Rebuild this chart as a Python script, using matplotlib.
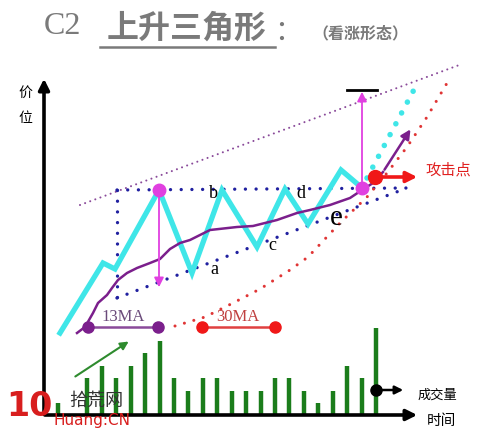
import matplotlib.pyplot as plt

cjk = ['Noto Sans CJK SC', 'DejaVu Sans']

# price zigzag (cyan), pixel-space coordinates
price_x = [60, 103, 115, 159, 192, 222, 257, 285, 308, 341, 361]
price_y = [333, 263, 269, 190, 273, 190, 247, 189, 224, 170, 187]
breakout_x = [367, 417]
breakout_y = [178, 84]

# 13MA (purple solid) and 30MA (red dotted)
ma13_x = [77, 85, 93, 98, 107, 112, 118, 127, 137, 150, 160, 170, 180, 190,
          210, 237, 253, 277, 297, 310, 330, 350, 362, 373, 383]
ma13_y = [333, 327, 313, 303, 295, 288, 280, 273, 268, 263, 259, 249, 243, 240,
          230, 227, 226, 220, 213, 210, 205, 198, 190, 183, 172]
ma13_tip = (412, 127)
ma30_x = [175, 205, 233, 260, 290, 308, 340, 367, 387, 407, 427, 450]
ma30_y = [326, 317, 303, 289, 270, 257, 223, 197, 173, 147, 117, 78]

# triangle lines
top_line = ([117, 407], [190, 188])
low_line = ([117, 407], [298, 188])
left_line = ([117, 117], [190, 298])
channel = ([80, 462], [205, 64])

# volume bars
vol_x = [58, 87, 102, 116, 131, 145, 160, 174, 188, 203, 217, 232, 246, 261,
         275, 289, 304, 318, 333, 347, 362, 376]
vol_top = [403, 378, 366, 378, 366, 353, 341, 378, 391, 378, 378, 391, 391, 391,
           378, 378, 391, 403, 391, 366, 378, 328]
base_y = 415

labels_abcd = ['a', 'b', 'c', 'd']
abcd_x = [214, 213, 272, 301]
abcd_y = [269, 194, 245, 194]

fig = plt.figure(figsize=(4.81, 4.37), dpi=100)
ax = fig.add_axes([0, 0, 1, 1])
ax.set_xlim(0, 481)
ax.set_ylim(437, 0)
ax.axis('off')


def dotted(x, y, color, lw, gap):
    ax.plot(x, y, color=color, lw=lw, linestyle=(0, (0.01, gap)),
            dash_capstyle='round')


# title
ax.text(62, 26, 'C2', fontsize=23, color='#7a7a7a', family='Liberation Serif',
        ha='center', va='center')
ax.text(187, 29, '上升三角形', fontsize=23, color='#7a7a7a', family=cjk,
        weight='bold', ha='center', va='center')
ax.plot([100, 275], [47, 47], color='#7a7a7a', lw=1.8)
ax.text(288, 32, '：', fontsize=20, color='#7a7a7a', family=cjk, ha='center', va='center')
ax.text(360, 33, '（看涨形态）', fontsize=11.5, color='#7a7a7a', family=cjk,
        weight='bold', ha='center', va='center')

# axes with arrows
ax.annotate('', xy=(44, 76), xytext=(44, 417),
            arrowprops=dict(arrowstyle='-|>', lw=2.6, color='black', mutation_scale=16))
ax.annotate('', xy=(420, base_y), xytext=(42, base_y),
            arrowprops=dict(arrowstyle='-|>', lw=2.6, color='black', mutation_scale=16))
ax.text(25, 93, '价', fontsize=10, family=cjk, ha='center', va='center')
ax.text(25, 118, '位', fontsize=10, family=cjk, ha='center', va='center')
ax.text(441, 421, '时间', fontsize=10.5, family=cjk, ha='center', va='center')
ax.text(437, 395, '成交量', fontsize=9.5, family=cjk, ha='center', va='center')

# volume
ax.vlines(vol_x, vol_top, base_y, color='#1b7d1b', lw=3.2)
ax.plot(vol_x[-1], 390, 'o', color='black', ms=8)
ax.annotate('', xy=(406, 390), xytext=(vol_x[-1], 390),
            arrowprops=dict(arrowstyle='-|>', lw=1.8, color='black', mutation_scale=12))
ax.annotate('', xy=(131, 340), xytext=(73, 378),
            arrowprops=dict(arrowstyle='-|>', lw=1.5, color='#2e8b2e', mutation_scale=12))

# lines of the pattern
dotted(*channel, '#8a4a9a', 1.5, 2.6)
dotted(*top_line, '#2020a0', 2.4, 3.2)
dotted(*low_line, '#2020a0', 2.4, 3.2)
dotted(*left_line, '#2020a0', 2.4, 3.2)
dotted(ma30_x, ma30_y, '#e03535', 2.2, 3.2)
ax.plot(price_x, price_y, color='#3fe6e8', lw=3.8, solid_joinstyle='miter')
dotted(breakout_x, breakout_y, '#3fe6e8', 4, 2.2)
ax.plot(ma13_x, ma13_y, color='#7b1f8c', lw=1.8)
ax.annotate('', xy=ma13_tip, xytext=(ma13_x[-1], ma13_y[-1]),
            arrowprops=dict(arrowstyle='-|>', lw=1.8, color='#7b1f8c', mutation_scale=14))

# measured move
ax.plot([159, 362], [190, 188], 'o', color='#e040e0', ms=9, lw=0)
ax.annotate('', xy=(159, 290), xytext=(159, 190),
            arrowprops=dict(arrowstyle='-|>', lw=1.3, color='#e040e0', mutation_scale=14))
ax.annotate('', xy=(362, 89), xytext=(362, 188),
            arrowprops=dict(arrowstyle='-|>', lw=1.3, color='#e040e0', mutation_scale=14))
ax.plot([347, 377], [90, 90], color='black', lw=2)

# attack point
ax.plot(375, 177, 'o', color='#f01818', ms=10)
ax.annotate('', xy=(420, 177), xytext=(375, 177),
            arrowprops=dict(arrowstyle='-|>', lw=2.6, color='#f01818', mutation_scale=16))
ax.text(448, 170, '攻击点', fontsize=11, color='#e02020', family=cjk,
        ha='center', va='center')

for t, x, y in zip(labels_abcd, abcd_x, abcd_y):
    ax.text(x, y, t, fontsize=13, family='Liberation Serif', ha='center', va='center')
ax.text(336, 218, 'e', fontsize=21, family='Liberation Serif', ha='center', va='center')

# legend
ax.plot([88, 158], [327, 327], color='#8a4a9a', lw=1.8)
ax.plot([88, 158], [327, 327], 'o', color='#7b1f8c', ms=8)
ax.text(123, 317, '13MA', fontsize=12, color='#6a4a7a', family='Liberation Serif',
        ha='center', va='center')
ax.plot([202, 275], [327, 327], color='#e04040', lw=1.8)
ax.plot([202, 275], [327, 327], 'o', color='#f01818', ms=8)
ax.text(238, 317, '30MA', fontsize=12, color='#c04040', family='Liberation Serif',
        ha='center', va='center')

# watermark
ax.text(29, 406, '10', fontsize=24, color='#d81e1e', weight='bold',
        family='DejaVu Sans', ha='center', va='center')
ax.text(96, 401, '拾荒网', fontsize=13, color='#333333', family=cjk,
        ha='center', va='center')
ax.text(92, 421, 'Huang:CN', fontsize=11, color='#d81e1e', family='DejaVu Sans',
        ha='center', va='center')

fig.savefig('out.png', dpi=100)
